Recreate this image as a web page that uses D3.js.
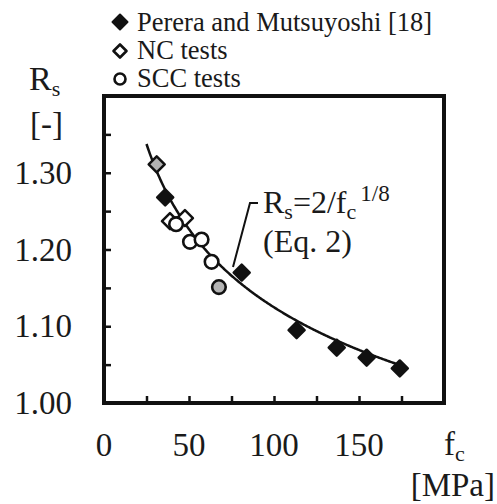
<!DOCTYPE html>
<html>
<head>
<meta charset="utf-8">
<script src="https://cdn.jsdelivr.net/npm/d3@7"></script>
<style>
  html, body { margin: 0; padding: 0; background: #fff; }
  svg { display: block; }
</style>
</head>
<body>
<svg id="chart" width="497" height="504"></svg>
<script>
// Perera and Mutsuyoshi [18] (filled diamonds)
const pereraFc = [36, 81, 113.3, 136.9, 154.5, 174];
const pereraRs = [1.268, 1.170, 1.095, 1.072, 1.059, 1.045];
// NC tests (open diamonds; the grey one is drawn with a grey fill)
const ncFc = [38.8, 47.6];
const ncRs = [1.237, 1.241];
const ncGreyFc = [31];
const ncGreyRs = [1.311];
// SCC tests (open circles; the grey one is drawn with a grey fill)
const sccFc = [42.4, 50.6, 57.4, 63.3];
const sccRs = [1.233, 1.210, 1.213, 1.184];
const sccGreyFc = [67.6];
const sccGreyRs = [1.151];

// axes
const xTicks = [0, 25, 50, 75, 100, 125, 150, 175, 200];
const xTickLabels = ["0", "", "50", "", "100", "", "150", "", ""];
const yTicks = [1.00, 1.05, 1.10, 1.15, 1.20, 1.25, 1.30, 1.35, 1.40];
const yTickLabels = ["1.00", "", "1.10", "", "1.20", "", "1.30", "", ""];

// Eq. 2 curve range
const curveFrom = 25, curveTo = 176;

const svg = d3.select("#chart");
const plotL = 104, plotR = 444, plotT = 96, plotB = 403;

const x = d3.scaleLinear().domain([0, 200]).range([plotL, plotR]);
const y = d3.scaleLinear().domain([1.0, 1.4]).range([plotB, plotT]);

// ticks (inward)
const xAxis = d3.axisTop(x).tickValues(xTicks.slice(1, -1)).tickSize(7).tickFormat("");
svg.append("g").attr("transform", `translate(0,${plotB})`).call(xAxis)
  .call(g => g.select(".domain").remove())
  .call(g => g.selectAll("line").attr("stroke", "#111").attr("stroke-width", 2.5));
const yAxis = d3.axisRight(y).tickValues(yTicks.slice(1, -1)).tickSize(7).tickFormat("");
svg.append("g").attr("transform", `translate(${plotL},0)`).call(yAxis)
  .call(g => g.select(".domain").remove())
  .call(g => g.selectAll("line").attr("stroke", "#111").attr("stroke-width", 2.5));

// frame
svg.append("rect")
  .attr("x", plotL).attr("y", plotT)
  .attr("width", plotR - plotL).attr("height", plotB - plotT)
  .attr("fill", "none").attr("stroke", "#111").attr("stroke-width", 4);

// all labels are set in a Times-like serif
const labels = svg.append("g");
function label(parent, size) {
  return parent.append("text")
    .attr("font-family", "Liberation Serif")
    .style("font-family", "Liberation Serif")
    .attr("font-size", size)
    .attr("fill", "#1a1a1a");
}

// tick labels
xTicks.forEach((d, i) => {
  if (xTickLabels[i]) label(labels, 33).attr("x", x(d)).attr("y", plotB + 53)
    .attr("text-anchor", "middle").text(xTickLabels[i]);
});
yTicks.forEach((d, i) => {
  if (yTickLabels[i]) label(labels, 33).attr("x", 72).attr("y", y(d) + 11)
    .attr("text-anchor", "end").text(yTickLabels[i]);
});

// axis titles
const yt = label(labels, 34).attr("x", 29).attr("y", 90);
yt.append("tspan").text("R");
yt.append("tspan").attr("font-size", 22).attr("dy", 6).text("s");
label(labels, 33).attr("x", 30).attr("y", 135).text("[-]");

const xt = label(labels, 33).attr("x", 444).attr("y", 455);
xt.append("tspan").text("f");
xt.append("tspan").attr("font-size", 22).attr("dy", 6).text("c");
label(labels, 33).attr("x", 495).attr("y", 496).attr("text-anchor", "end").text("[MPa]");

// Eq. 2 curve
const curveFc = d3.range(curveFrom, curveTo + 0.001, 0.5);
svg.append("path")
  .datum(curveFc)
  .attr("d", d3.line().x(d => x(d)).y(d => y(2 / Math.pow(d, 1 / 8))))
  .attr("fill", "none").attr("stroke", "#111").attr("stroke-width", 2.5);

// markers
const diamond = (cx, cy, s) => `M${cx},${cy - s}L${cx + s},${cy}L${cx},${cy + s}L${cx - s},${cy}Z`;

function diamonds(fc, rs, fill) {
  svg.append("g").selectAll("path").data(fc).join("path")
    .attr("d", (d, i) => diamond(x(d), y(rs[i]), 8))
    .attr("fill", fill).attr("stroke", "#111").attr("stroke-width", 2.5)
    .attr("stroke-linejoin", "round");
}
function circles(fc, rs, fill) {
  svg.append("g").selectAll("circle").data(fc).join("circle")
    .attr("cx", d => x(d)).attr("cy", (d, i) => y(rs[i])).attr("r", 6.8)
    .attr("fill", fill).attr("stroke", "#111").attr("stroke-width", 2.6);
}
diamonds(ncGreyFc, ncGreyRs, "#b4b4b4");
diamonds(ncFc, ncRs, "#fff");
circles(sccFc, sccRs, "#fff");
circles(sccGreyFc, sccGreyRs, "#b4b4b4");
diamonds(pereraFc, pereraRs, "#111");

// annotation
svg.append("path")
  .attr("d", "M233,267L250,203L258,203")
  .attr("fill", "none").attr("stroke", "#111").attr("stroke-width", 2);
const eq = label(svg, 32).attr("x", 263).attr("y", 213);
eq.append("tspan").text("R");
eq.append("tspan").attr("font-size", 22).attr("dy", 6).text("s");
eq.append("tspan").attr("dy", -6).text("=2/f");
eq.append("tspan").attr("font-size", 22).attr("dy", 6).text("c");
eq.append("tspan").attr("font-size", 23).attr("dy", -18).attr("dx", 4).text("1/8");
label(svg, 32).attr("x", 263).attr("y", 252).text("(Eq. 2)");

// legend
const legend = svg.append("g");
legend.append("path").attr("d", diamond(120, 22, 7.5)).attr("fill", "#111")
  .attr("stroke", "#111").attr("stroke-width", 2).attr("stroke-linejoin", "round");
legend.append("path").attr("d", diamond(120, 51, 6.5)).attr("fill", "#fff")
  .attr("stroke", "#111").attr("stroke-width", 2.6).attr("stroke-linejoin", "round");
legend.append("circle").attr("cx", 120).attr("cy", 79).attr("r", 5.5).attr("fill", "#fff")
  .attr("stroke", "#111").attr("stroke-width", 2.6);
const legendLabels = ["Perera and Mutsuyoshi [18]", "NC tests", "SCC tests"];
legendLabels.forEach((t, i) => {
  label(legend, 26.5).attr("x", 137).attr("y", 31 + i * 28).text(t);
});
</script>
</body>
</html>
